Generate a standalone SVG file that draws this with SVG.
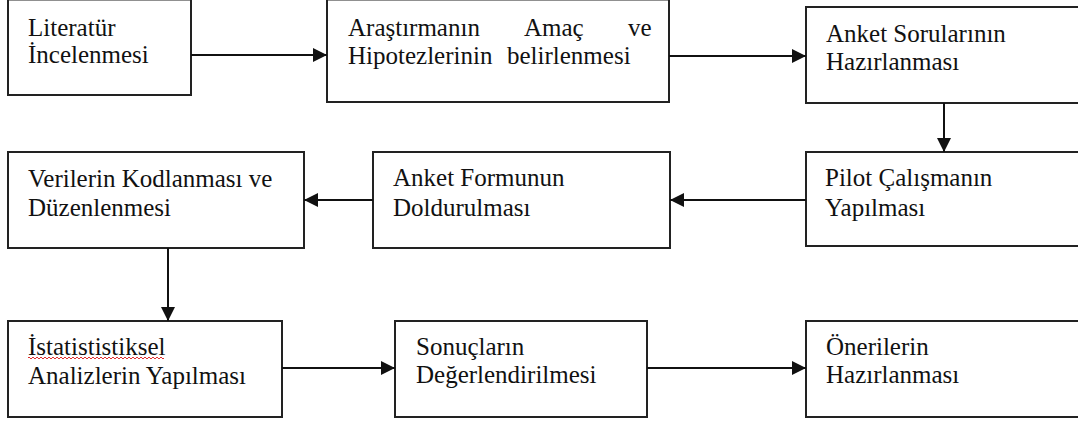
<svg xmlns="http://www.w3.org/2000/svg" width="1078" height="423" viewBox="0 0 1078 423">
  <style>
    .box { fill: #ffffff; stroke: #222222; stroke-width: 2; }
    .lbl { font-family: "Liberation Serif", "Times New Roman", serif; font-size: 25px; fill: #111111; }
    .link { stroke: #111111; stroke-width: 2; fill: none; marker-end: url(#head); }
    .squiggle { stroke: #e03030; stroke-width: 1; fill: none; }
  </style>
  <defs>
    <marker id="head" markerUnits="userSpaceOnUse" markerWidth="14" markerHeight="14" refX="14" refY="7" orient="auto">
      <path d="M0,0 L14,7 L0,14 Z" fill="#111111"/>
    </marker>
  </defs>
  <rect width="1078" height="423" fill="#ffffff"/>

  <!-- process steps, in reading order -->
  <g id="step-literatur">
    <rect class="box" x="8" y="-0.5" width="183" height="95.5"/>
    <text class="lbl" x="28" y="36">Literatür</text>
    <text class="lbl" x="28" y="63">İncelenmesi</text>
  </g>

  <g id="step-amac-hipotez">
    <rect class="box" x="327" y="-0.5" width="342" height="102.5"/>
    <text class="lbl" y="36"><tspan x="348">Araştırmanın</tspan><tspan x="524">Amaç</tspan><tspan x="628">ve</tspan></text>
    <text class="lbl" y="64"><tspan x="348">Hipotezlerinin</tspan><tspan x="507">belirlenmesi</tspan></text>
  </g>

  <g id="step-anket-sorulari">
    <rect class="box" x="806" y="7" width="290" height="96"/>
    <text class="lbl" x="826" y="42">Anket Sorularının</text>
    <text class="lbl" x="826" y="70">Hazırlanması</text>
  </g>

  <g id="step-pilot">
    <rect class="box" x="806" y="152" width="290" height="94"/>
    <text class="lbl" x="825" y="186">Pilot Çalışmanın</text>
    <text class="lbl" x="825" y="216">Yapılması</text>
  </g>

  <g id="step-anket-formu">
    <rect class="box" x="373" y="152" width="297" height="96"/>
    <text class="lbl" x="393" y="186">Anket Formunun</text>
    <text class="lbl" x="393" y="216">Doldurulması</text>
  </g>

  <g id="step-kodlama">
    <rect class="box" x="8" y="152" width="296" height="96"/>
    <text class="lbl" x="28" y="187">Verilerin Kodlanması ve</text>
    <text class="lbl" x="28" y="216">Düzenlenmesi</text>
  </g>

  <g id="step-istatistik">
    <rect class="box" x="8" y="321" width="274" height="96"/>
    <text class="lbl" x="28" y="355">İstatististiksel</text>
    <path class="squiggle" d="M28,358 q1,-2 2,0 t2,0 t2,0 t2,0 t2,0 t2,0 t2,0 t2,0 t2,0 t2,0 t2,0 t2,0 t2,0 t2,0 t2,0 t2,0 t2,0 t2,0 t2,0 t2,0 t2,0 t2,0 t2,0 t2,0 t2,0 t2,0 t2,0 t2,0 t2,0 t2,0 t2,0 t2,0 t2,0 t2,0 t2,0 t2,0 t2,0 t2,0 t2,0 t2,0 t2,0 t2,0 t2,0 t2,0 t2,0 t2,0 t2,0 t2,0 t2,0 t2,0 t2,0 t2,0 t2,0 t2,0 t2,0 t2,0 t2,0 t2,0 t2,0 t2,0 t2,0 t2,0 t2,0 t2,0 t2,0 t2,0 t2,0 t2,0"/>
    <text class="lbl" x="28" y="384">Analizlerin Yapılması</text>
  </g>

  <g id="step-sonuclar">
    <rect class="box" x="395" y="321" width="252" height="96"/>
    <text class="lbl" x="416" y="355">Sonuçların</text>
    <text class="lbl" x="416" y="383">Değerlendirilmesi</text>
  </g>

  <g id="step-oneriler">
    <rect class="box" x="806" y="321" width="290" height="96"/>
    <text class="lbl" x="826" y="355">Önerilerin</text>
    <text class="lbl" x="826" y="383">Hazırlanması</text>
  </g>

  <!-- flow connectors -->
  <g id="connectors">
    <line class="link" x1="191" y1="55" x2="327" y2="55"/>
    <line class="link" x1="669" y1="56" x2="806" y2="56"/>
    <line class="link" x1="944" y1="103" x2="944" y2="152"/>
    <line class="link" x1="806" y1="200" x2="670" y2="200"/>
    <line class="link" x1="373" y1="200" x2="304" y2="200"/>
    <line class="link" x1="168" y1="248" x2="168" y2="321"/>
    <line class="link" x1="282" y1="368" x2="395" y2="368"/>
    <line class="link" x1="647" y1="368" x2="806" y2="368"/>
  </g>
</svg>
